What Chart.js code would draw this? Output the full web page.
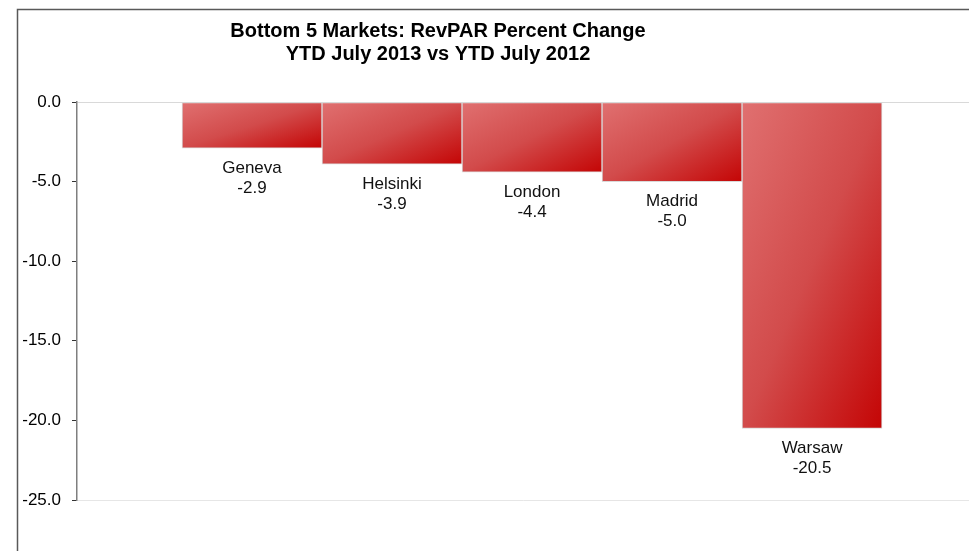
<!DOCTYPE html>
<html>
<head>
<meta charset="utf-8">
<script src="https://cdn.jsdelivr.net/npm/chart.js@4"></script>
<style>
  html, body { margin: 0; padding: 0; background: #fff; overflow: hidden; }
  #wrap { position: relative; width: 969px; height: 551px; }
</style>
</head>
<body>
<div id="wrap"><canvas id="chart"></canvas></div>
<script>
const markets = ["Geneva", "Helsinki", "London", "Madrid", "Warsaw"];
const revparChange = [-2.9, -3.9, -4.4, -5.0, -20.5];
const yTicks = [0, -5, -10, -15, -20, -25];
const titleLines = ["Bottom 5 Markets: RevPAR Percent Change", "YTD July 2013 vs YTD July 2012"];

const FONT = "'Liberation Sans', Arial, sans-serif";

// diagonal fill like the spreadsheet's "linear diagonal" gradient
function barFill(context) {
  const chart = context.chart;
  const el = chart.getDatasetMeta(0).data[context.dataIndex];
  if (!el || !chart.chartArea) return "#d04848";
  const p = el.getProps(["x", "y", "base", "width"], true);
  if (![p.x, p.y, p.base, p.width].every(Number.isFinite)) return "#d04848";
  const x0 = p.x - p.width / 2;
  const y0 = Math.min(p.y, p.base);
  const w = p.width;
  const h = Math.abs(p.base - p.y) || 1;
  const k = 2 * w * h / (w * w + h * h);
  const g = chart.ctx.createLinearGradient(x0, y0, x0 + k * h, y0 + k * w);
  g.addColorStop(0, "#e07070");
  g.addColorStop(0.5, "#d24b4b");
  g.addColorStop(1, "#c40505");
  return g;
}

const framePlugin = {
  id: "frame",
  beforeDraw(chart) {
    const ctx = chart.ctx;
    ctx.save();
    ctx.strokeStyle = "#595959";
    ctx.lineWidth = 1.5;
    ctx.beginPath();
    ctx.moveTo(17.5, 560);
    ctx.lineTo(17.5, 9.5);
    ctx.lineTo(975, 9.5);
    ctx.stroke();
    // title
    ctx.fillStyle = "#000";
    ctx.font = "bold 20px " + FONT;
    ctx.textAlign = "center";
    ctx.textBaseline = "middle";
    titleLines.forEach((t, i) => ctx.fillText(t, 438, 31 + i * 23));
    ctx.restore();
  }
};

const barLabels = {
  id: "barLabels",
  afterDatasetsDraw(chart) {
    const ctx = chart.ctx;
    const meta = chart.getDatasetMeta(0);
    ctx.save();
    ctx.fillStyle = "#111";
    ctx.font = "17px " + FONT;
    ctx.textAlign = "center";
    ctx.textBaseline = "middle";
    meta.data.forEach((bar, i) => {
      ctx.fillText(markets[i], bar.x, bar.y + 20);
      ctx.fillText(revparChange[i].toFixed(1), bar.x, bar.y + 40);
    });
    ctx.restore();
  }
};

const chart = new Chart(document.getElementById("chart"), {
  type: "bar",
  data: {
    datasets: [{
      label: "RevPAR % change",
      data: revparChange.map((v, i) => ({ x: i, y: v })),
      backgroundColor: barFill,
      borderColor: "#d9d9d9",
      borderWidth: 1,
      borderSkipped: false,
      barPercentage: 1,
      categoryPercentage: 1
    }]
  },
  options: {
    responsive: true,
    maintainAspectRatio: false,
    animation: false,
    layout: { padding: { top: 102, bottom: 51, left: 0, right: 0 } },
    plugins: {
      legend: { display: false },
      title: { display: false },
      tooltip: { enabled: false }
    },
    scales: {
      x: {
        type: "linear",
        display: false,
        offset: false,
        min: -1.25,
        max: 5.121
      },
      y: {
        min: -25,
        max: 0,
        afterFit(scale) { scale.width = 77; },
        afterBuildTicks(scale) { scale.ticks = yTicks.map(v => ({ value: v })); },
        border: { display: true, color: "#7f7f7f", width: 1.5 },
        grid: {
          // only the zero line and the bottom edge are drawn
          color: c => c.tick && c.tick.value === 0 ? "#d9d9d9" : (c.tick && c.tick.value === -25 ? "#e6e6e6" : "rgba(0,0,0,0)"),
          lineWidth: 1,
          tickLength: 5,
          tickColor: "#333"
        },
        ticks: {
          padding: 11,
          color: "#000",
          font: { family: FONT, size: 17 },
          callback: v => Number(v).toFixed(1)
        }
      }
    }
  },
  plugins: [framePlugin, barLabels]
});
// second pass so the gradients see final bar geometry
chart.update();
</script>
</body>
</html>
